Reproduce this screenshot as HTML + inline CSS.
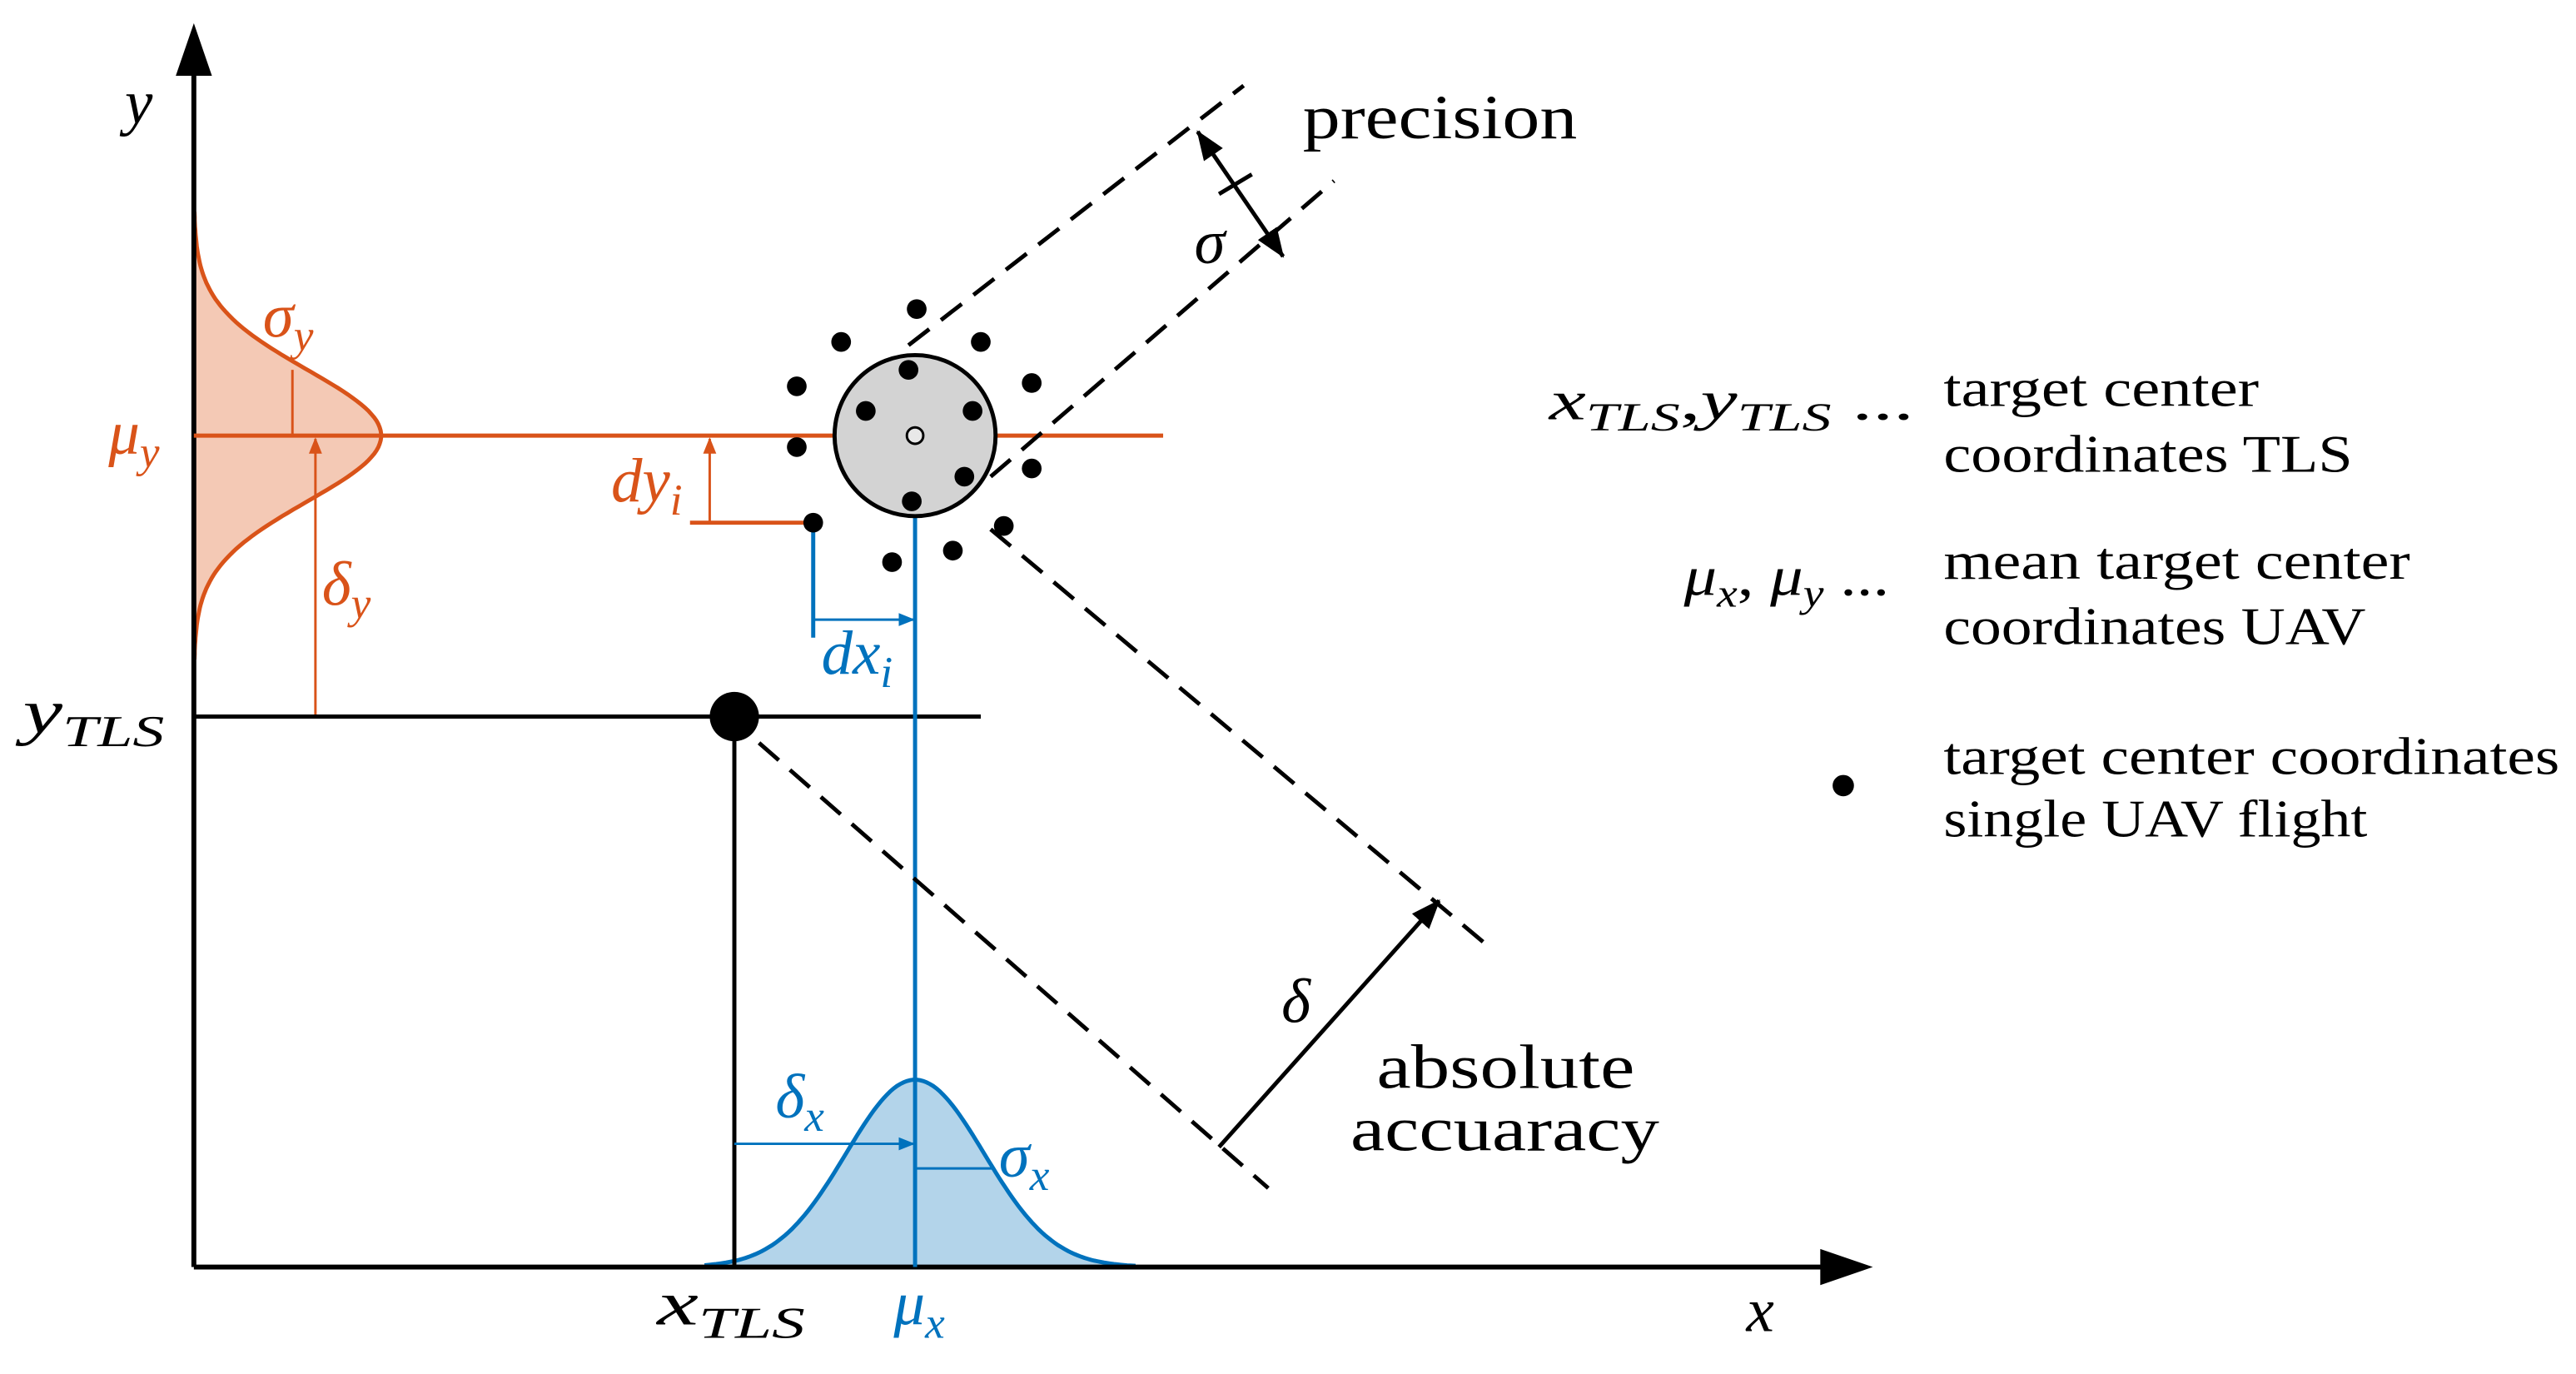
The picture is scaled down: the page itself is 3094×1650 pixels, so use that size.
<!DOCTYPE html>
<html><head><meta charset="utf-8"><style>
html,body{margin:0;padding:0;background:#fff;}
svg{display:block;}
text{font-family:"Liberation Serif",serif;}
.it{font-style:italic;}
</style></head><body>
<svg width="3094" height="1650" viewBox="0 0 1568 836" xmlns="http://www.w3.org/2000/svg">
<defs>
<marker id="ab2" markerWidth="18" markerHeight="14" refX="17" refY="7" orient="auto" markerUnits="userSpaceOnUse"><path d="M0,0 L18,7 L0,14 z" fill="#000"/></marker>
<marker id="ab2s" markerWidth="18" markerHeight="14" refX="1" refY="7" orient="auto" markerUnits="userSpaceOnUse"><path d="M18,0 L0,7 L18,14 z" fill="#000"/></marker>
<marker id="ao" markerWidth="10" markerHeight="10" refX="9" refY="5" orient="auto" markerUnits="userSpaceOnUse"><path d="M0,1 L10,5 L0,9 z" fill="#d95319"/></marker>
<marker id="abl" markerWidth="10" markerHeight="10" refX="9" refY="5" orient="auto" markerUnits="userSpaceOnUse"><path d="M0,1 L10,5 L0,9 z" fill="#0072bd"/></marker>
</defs>

<path id="og" d="" fill="#f4c9b5" stroke="#d95319" stroke-width="2.5"/>
<path id="bg" d="" fill="#b3d4ea" stroke="#0072bd" stroke-width="2.5"/>

<line x1="118" y1="771" x2="1120" y2="771" stroke="#000" stroke-width="3"/>
<path d="M1140,771 L1108,760 L1108,782 z" fill="#000"/>
<line x1="118" y1="771" x2="118" y2="40" stroke="#000" stroke-width="3"/>
<path d="M118,14 L107,46 L129,46 z" fill="#000"/>
<text x="76" y="75" font-size="38" class="it">y</text>
<text x="1063" y="810" font-size="38" class="it">x</text>

<line x1="118" y1="265" x2="708" y2="265" stroke="#d95319" stroke-width="2.5"/>
<line x1="178" y1="225" x2="178" y2="265" stroke="#d95319" stroke-width="1.5"/>
<line x1="192" y1="435" x2="192" y2="267" stroke="#d95319" stroke-width="1.5" marker-end="url(#ao)"/>
<text x="160" y="205" font-size="38" class="it" fill="#d95319">σ<tspan font-size="27" dy="8">y</tspan></text>
<text x="66" y="276" font-size="38" class="it" fill="#d95319">μ<tspan font-size="27" dy="8">y</tspan></text>
<text x="196" y="368" font-size="38" class="it" fill="#d95319">δ<tspan font-size="27" dy="8">y</tspan></text>

<line x1="118" y1="436" x2="597" y2="436" stroke="#000" stroke-width="2.5"/>
<line x1="447" y1="436" x2="447" y2="771" stroke="#000" stroke-width="2.5"/>
<circle cx="447" cy="436" r="15" fill="#000"/>
<text x="14" y="446" font-size="38" class="it" textLength="86" lengthAdjust="spacingAndGlyphs">y<tspan font-size="27" dy="8">TLS</tspan></text>
<text x="400" y="806" font-size="38" class="it" textLength="90" lengthAdjust="spacingAndGlyphs">x<tspan font-size="27" dy="8">TLS</tspan></text>

<line x1="557" y1="265" x2="557" y2="771" stroke="#0072bd" stroke-width="2.5"/>
<line x1="557" y1="711" x2="605" y2="711" stroke="#0072bd" stroke-width="1.5"/>
<line x1="447" y1="696" x2="556" y2="696" stroke="#0072bd" stroke-width="1.5" marker-end="url(#abl)"/>
<text x="472" y="680" font-size="38" class="it" fill="#0072bd">δ<tspan font-size="27" dy="8">x</tspan></text>
<text x="608" y="716" font-size="38" class="it" fill="#0072bd">σ<tspan font-size="27" dy="8">x</tspan></text>
<text x="544" y="806" font-size="38" class="it" fill="#0072bd">μ<tspan font-size="27" dy="8">x</tspan></text>

<g stroke="#000" stroke-width="2.5" stroke-dasharray="16,9" fill="none">
<line x1="553" y1="210" x2="757" y2="52"/>
<line x1="603" y1="290" x2="812" y2="110"/>
<line x1="603" y1="322" x2="905" y2="575"/>
<line x1="462" y1="452" x2="772" y2="723"/>
</g>
<line x1="729" y1="80" x2="781" y2="156" stroke="#000" stroke-width="2.5" marker-start="url(#ab2s)" marker-end="url(#ab2)"/>
<line x1="742" y1="118" x2="762" y2="106" stroke="#000" stroke-width="2.5"/>
<text x="727" y="160" font-size="38" class="it">σ</text>
<text x="793" y="84" font-size="38" textLength="167" lengthAdjust="spacingAndGlyphs">precision</text>
<line x1="742" y1="698" x2="876" y2="548" stroke="#000" stroke-width="2.5" marker-end="url(#ab2)"/>
<text x="780" y="622" font-size="38" class="it">δ</text>
<text x="838" y="662" font-size="38" textLength="157" lengthAdjust="spacingAndGlyphs">absolute</text>
<text x="822" y="700" font-size="38" textLength="188" lengthAdjust="spacingAndGlyphs">accuaracy</text>

<circle cx="557" cy="265" r="49" fill="#d3d3d3" stroke="#000" stroke-width="2.5"/>
<circle cx="557" cy="265" r="5" fill="#e8e8e8" stroke="#000" stroke-width="1.5"/>

<polyline points="420,318 495,318" stroke="#d95319" stroke-width="2.5" fill="none"/>
<line x1="432" y1="318" x2="432" y2="267" stroke="#d95319" stroke-width="1.5" marker-end="url(#ao)"/>
<text x="372" y="305" font-size="38" class="it" fill="#d95319">dy<tspan font-size="27" dy="8">i</tspan></text>
<line x1="495" y1="318" x2="495" y2="388" stroke="#0072bd" stroke-width="2.5"/>
<line x1="495" y1="377" x2="556" y2="377" stroke="#0072bd" stroke-width="1.5" marker-end="url(#abl)"/>
<text x="500" y="410" font-size="38" class="it" fill="#0072bd">dx<tspan font-size="27" dy="8">i</tspan></text>

<g fill="#000">
<circle cx="558" cy="188" r="6"/><circle cx="512" cy="208" r="6"/><circle cx="597" cy="208" r="6"/>
<circle cx="485" cy="235" r="6"/><circle cx="628" cy="233" r="6"/><circle cx="553" cy="225" r="6"/>
<circle cx="592" cy="250" r="6"/><circle cx="527" cy="250" r="6"/><circle cx="485" cy="272" r="6"/>
<circle cx="628" cy="285" r="6"/><circle cx="587" cy="290" r="6"/><circle cx="555" cy="305" r="6"/>
<circle cx="611" cy="320" r="6"/><circle cx="543" cy="342" r="6"/><circle cx="580" cy="335" r="6"/>
<circle cx="495" cy="318" r="6"/>
<circle cx="1122" cy="478" r="6.5"/>
</g>

<text x="943" y="255" font-size="34" textLength="222" lengthAdjust="spacingAndGlyphs"><tspan class="it">x</tspan><tspan class="it" font-size="24" dy="7">TLS</tspan><tspan dy="-7">,</tspan><tspan class="it">y</tspan><tspan class="it" font-size="24" dy="7">TLS</tspan><tspan dy="-7"> ...</tspan></text>
<text x="1183" y="247" font-size="32" textLength="192" lengthAdjust="spacingAndGlyphs">target center</text>
<text x="1183" y="287" font-size="32" textLength="249" lengthAdjust="spacingAndGlyphs">coordinates TLS</text>
<text x="1025" y="362" font-size="34" textLength="125" lengthAdjust="spacingAndGlyphs"><tspan class="it">μ</tspan><tspan class="it" font-size="24" dy="7">x</tspan><tspan dy="-7">, </tspan><tspan class="it">μ</tspan><tspan class="it" font-size="24" dy="7">y</tspan><tspan dy="-7"> ...</tspan></text>
<text x="1183" y="352" font-size="32" textLength="284" lengthAdjust="spacingAndGlyphs">mean target center</text>
<text x="1183" y="392" font-size="32" textLength="257" lengthAdjust="spacingAndGlyphs">coordinates UAV</text>
<text x="1183" y="471" font-size="32" textLength="375" lengthAdjust="spacingAndGlyphs">target center coordinates</text>
<text x="1183" y="509" font-size="32" textLength="258" lengthAdjust="spacingAndGlyphs">single UAV flight</text>

<script>
(function(){
 var s='M118,130 ';
 for(var y=130;y<=400;y+=2){var x=118+114*Math.exp(-Math.pow((y-265)/40,2)/2);s+='L'+x.toFixed(1)+','+y+' ';}
 s+='L118,400 z';document.getElementById('og').setAttribute('d',s);
 var b='M430,771 ';
 for(var x=430;x<=690;x+=2){var y=771-114*Math.exp(-Math.pow((x-557)/42,2)/2);b+='L'+x+','+y.toFixed(1)+' ';}
 b+='L690,771 z';document.getElementById('bg').setAttribute('d',b);
})();
</script>
</svg>
</body></html>
